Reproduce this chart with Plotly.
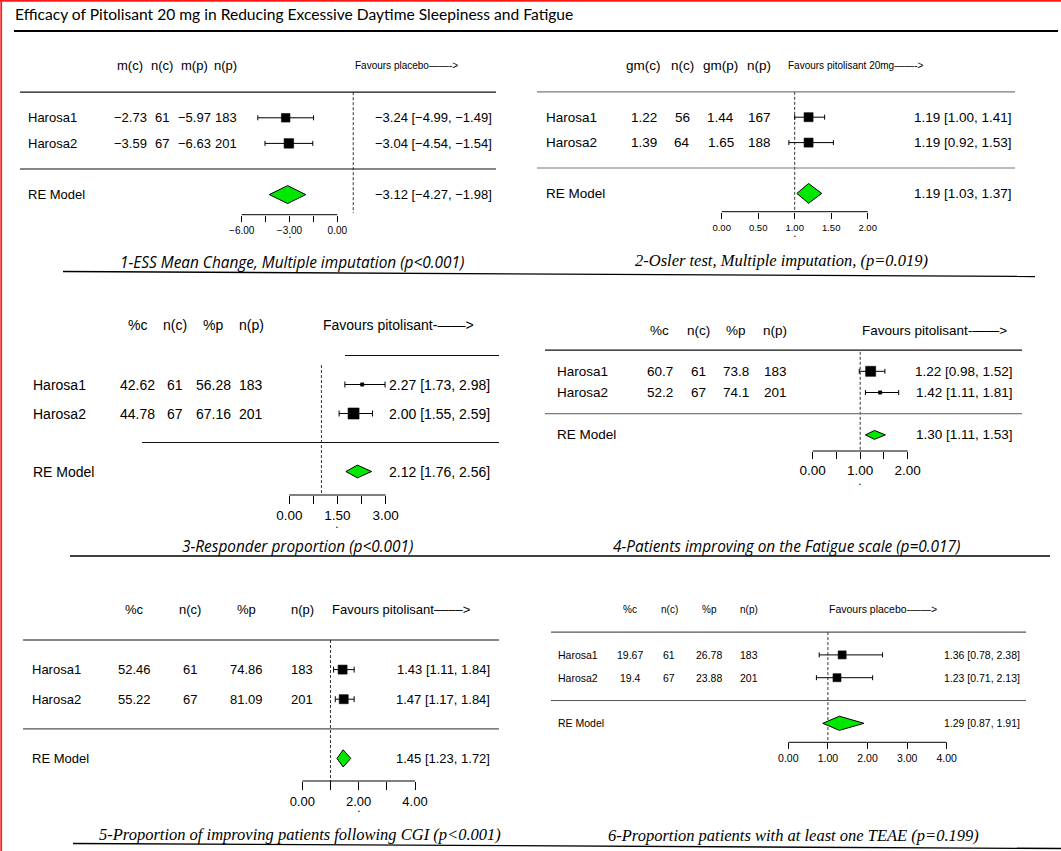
import plotly.graph_objects as go

W, H = 1061, 851
MINUS = "\u2212"

STUDIES = ["Harosa1", "Harosa2"]
STUDY_ROWS = [2, 1]
RE_ROW = -1
RE_LABEL = "RE Model"
REF_VALUE = 1.0

MAIN_TITLE = "Efficacy of Pitolisant 20 mg in Reducing Excessive Daytime Sleepiness and Fatigue"

# ---- 1: ESS mean change ----
ess_headers = ["m(c)", "n(c)", "m(p)", "n(p)"]
ess_mc = [-2.73, -3.59]
ess_nc = [61, 67]
ess_mp = [-5.97, -6.63]
ess_np = [183, 201]
ess_est = [-3.24, -3.04]
ess_lo = [-4.99, -4.54]
ess_hi = [-1.49, -1.54]
ess_re = [-3.12, -4.27, -1.98]
ess_ticks = [-6, -4.5, -3, -1.5, 0]
ess_ticktext = ["\u22126.00", "", "\u22123.00", "", "0.00"]
ess_favours = "Favours placebo\u2014\u2014->"
ess_title = "1-ESS Mean Change, Multiple imputation (p<0.001)"

# ---- 2: Osler test ----
osler_headers = ["gm(c)", "n(c)", "gm(p)", "n(p)"]
osler_gmc = [1.22, 1.39]
osler_nc = [56, 64]
osler_gmp = [1.44, 1.65]
osler_np = [167, 188]
osler_est = [1.19, 1.19]
osler_lo = [1.00, 0.92]
osler_hi = [1.41, 1.53]
osler_re = [1.19, 1.03, 1.37]
osler_ticks = [0, 0.5, 1, 1.5, 2]
osler_ticktext = ["0.00", "0.50", "1.00", "1.50", "2.00"]
osler_favours = "Favours pitolisant 20mg\u2014\u2014->"
osler_title = "2-Osler test, Multiple imputation, (p=0.019)"

# ---- 3: responder proportion ----
resp_headers = ["%c", "n(c)", "%p", "n(p)"]
resp_pc = [42.62, 44.78]
resp_nc = [61, 67]
resp_pp = [56.28, 67.16]
resp_np = [183, 201]
resp_est = [2.27, 2.00]
resp_lo = [1.73, 1.55]
resp_hi = [2.98, 2.59]
resp_re = [2.12, 1.76, 2.56]
resp_ticks = [0, 0.75, 1.5, 2.25, 3]
resp_ticktext = ["0.00", "", "1.50", "", "3.00"]
resp_favours = "Favours pitolisant-\u2014\u2014>"
resp_title = "3-Responder proportion (p<0.001)"

# ---- 4: fatigue scale ----
fat_headers = ["%c", "n(c)", "%p", "n(p)"]
fat_pc = [60.7, 52.2]
fat_nc = [61, 67]
fat_pp = [73.8, 74.1]
fat_np = [183, 201]
fat_est = [1.22, 1.42]
fat_lo = [0.98, 1.11]
fat_hi = [1.52, 1.81]
fat_re = [1.30, 1.11, 1.53]
fat_ticks = [0, 0.5, 1, 1.5, 2]
fat_ticktext = ["0.00", "", "1.00", "", "2.00"]
fat_favours = "Favours pitolisant-\u2014\u2014>"
fat_title = "4-Patients improving on the Fatigue scale (p=0.017)"

# ---- 5: CGI improvement ----
cgi_headers = ["%c", "n(c)", "%p", "n(p)"]
cgi_pc = [52.46, 55.22]
cgi_nc = [61, 67]
cgi_pp = [74.86, 81.09]
cgi_np = [183, 201]
cgi_est = [1.43, 1.47]
cgi_lo = [1.11, 1.17]
cgi_hi = [1.84, 1.84]
cgi_re = [1.45, 1.23, 1.72]
cgi_ticks = [0, 1, 2, 3, 4]
cgi_ticktext = ["0.00", "", "2.00", "", "4.00"]
cgi_favours = "Favours pitolisant\u2013\u2013\u2013\u2013>"
cgi_title = "5-Proportion of improving patients following CGI (p<0.001)"

# ---- 6: at least one TEAE ----
teae_headers = ["%c", "n(c)", "%p", "n(p)"]
teae_pc = [19.67, 19.4]
teae_nc = [61, 67]
teae_pp = [26.78, 23.88]
teae_np = [183, 201]
teae_est = [1.36, 1.23]
teae_lo = [0.78, 0.71]
teae_hi = [2.38, 2.13]
teae_re = [1.29, 0.87, 1.91]
teae_ticks = [0, 1, 2, 3, 4]
teae_ticktext = ["0.00", "1.00", "2.00", "3.00", "4.00"]
teae_favours = "Favours placebo-\u2014\u2014>"
teae_title = "6-Proportion patients with at least one TEAE (p=0.199)"

SANS = "Liberation Sans, Arial, Helvetica, sans-serif"
HUMAN = "Open Sans, Noto Sans, sans-serif"
SERIF = "Liberation Serif, Times New Roman, serif"
HEAD = "Lato, Open Sans, sans-serif"
GREEN = "#00E800"

panels = [
    dict(headers=ess_headers, cols=[ess_mc, ess_nc, ess_mp, ess_np],
         est=ess_est, lo=ess_lo, hi=ess_hi, re=ess_re,
         ticks=ess_ticks, ticktext=ess_ticktext, favours=ess_favours, title=ess_title,
         x0=337.3, s=15.93, y0=169.0, h=25.6, axis_px=214.7, ticklen=6, fs_tick=10,
         col_x=[130, 162.3, 194, 225.7], head_y=65, fs_head=13,
         fav_x=354, fav_y=65, fs_fav=10,
         label_x=26.5, right_x=493, fs=13,
         top=(20, 496, "#111"), mid=(20, 496, "#111"),
         ref_rows=(3, -1.72), sq=[8.5, 9.5], cap=2.5, dh=0.35,
         title_x=292, title_y=262, title_font=HUMAN, title_fs=15.4,
         dot=(-3, 237)),
    dict(headers=osler_headers, cols=[osler_gmc, osler_nc, osler_gmp, osler_np],
         est=osler_est, lo=osler_lo, hi=osler_hi, re=osler_re,
         ticks=osler_ticks, ticktext=osler_ticktext, favours=osler_favours, title=osler_title,
         x0=721.7, s=73.0, y0=168.0, h=25.4, axis_px=211.7, ticklen=6.5, fs_tick=9.5,
         col_x=[643.5, 682, 720.5, 759], head_y=65, fs_head=13.5,
         fav_x=787, fav_y=65, fs_fav=10,
         label_x=545, right_x=1013, fs=13.5,
         top=(537, 1015, "#7a7a7a"), mid=(537, 1015, "#7a7a7a"),
         ref_rows=(3, -1.72), sq=[9, 9], cap=2.5, dh=0.39,
         title_x=781, title_y=260, title_font=SERIF, title_fs=16.5,
         dot=(1, 235.5)),
    dict(headers=resp_headers, cols=[resp_pc, resp_nc, resp_pp, resp_np],
         est=resp_est, lo=resp_lo, hi=resp_hi, re=resp_re,
         ticks=resp_ticks, ticktext=resp_ticktext, favours=resp_favours, title=resp_title,
         x0=289.3, s=32.13, y0=442.5, h=29.0, axis_px=495, ticklen=8, fs_tick=13.5,
         col_x=[137.2, 174.8, 213, 251.3], head_y=325, fs_head=14,
         fav_x=322, fav_y=325, fs_fav=14,
         label_x=32, right_x=491, fs=14,
         top=(345, 499, "#111"), mid=(142, 499, "#111"),
         ref_rows=(2.67, -1.74), sq=[3.3, 11], cap=3, dh=0.22,
         title_x=297, title_y=546, title_font=HUMAN, title_fs=15.4,
         dot=(1.5, 527)),
    dict(headers=fat_headers, cols=[fat_pc, fat_nc, fat_pp, fat_np],
         est=fat_est, lo=fat_lo, hi=fat_hi, re=fat_re,
         ticks=fat_ticks, ticktext=fat_ticktext, favours=fat_favours, title=fat_title,
         x0=812.7, s=47.5, y0=413.7, h=21.2, axis_px=451, ticklen=7, fs_tick=13.5,
         col_x=[659.5, 698.2, 736.3, 775.2], head_y=330, fs_head=13.5,
         fav_x=861, fav_y=330, fs_fav=13.5,
         label_x=556, right_x=1014, fs=13.5,
         top=(545, 1022, "#111"), mid=(545, 1022, "#7a7a7a"),
         ref_rows=(2.92, -1.71), sq=[10, 3.3], cap=2.5, dh=0.21,
         title_x=786, title_y=546, title_font=HUMAN, title_fs=15.4,
         dot=(1, 484)),
    dict(headers=cgi_headers, cols=[cgi_pc, cgi_nc, cgi_pp, cgi_np],
         est=cgi_est, lo=cgi_lo, hi=cgi_hi, re=cgi_re,
         ticks=cgi_ticks, ticktext=cgi_ticktext, favours=cgi_favours, title=cgi_title,
         x0=302.3, s=28.18, y0=728.8, h=29.6, axis_px=781, ticklen=8, fs_tick=13,
         col_x=[134.4, 190.1, 246.5, 302.4], head_y=609, fs_head=13,
         fav_x=331, fav_y=609, fs_fav=13,
         label_x=31, right_x=491, fs=13,
         top=(23, 499, "#111"), mid=(23, 499, "#555"),
         ref_rows=(3, -2.0), sq=[9, 9], cap=3, dh=0.29,
         title_x=300, title_y=834, title_font=SERIF, title_fs=16.5,
         dot=(2, 810.5)),
    dict(headers=teae_headers, cols=[teae_pc, teae_nc, teae_pp, teae_np],
         est=teae_est, lo=teae_lo, hi=teae_hi, re=teae_re,
         ticks=teae_ticks, ticktext=teae_ticktext, favours=teae_favours, title=teae_title,
         x0=788.3, s=39.6, y0=700.5, h=22.8, axis_px=742.3, ticklen=6, fs_tick=10.5,
         col_x=[630.3, 669.3, 709.2, 748.6], head_y=609, fs_head=10,
         fav_x=828, fav_y=609, fs_fav=10.5,
         label_x=557, right_x=1021, fs=10.5,
         top=(551, 1026, "#555"), mid=(551, 1026, "#555"),
         ref_rows=(3, -1.81), sq=[8, 8], cap=2.5, dh=0.31,
         title_x=793, title_y=835, title_font=SERIF, title_fs=16.5,
         dot=None),
]


def num(v):
    return f"{v:g}".replace("-", MINUS)


def ci_text(e, l, u):
    return f"{e:.2f} [{l:.2f}, {u:.2f}]".replace("-", MINUS)


fig = go.Figure()
annotations = []
shapes = []
layout_axes = {}


def paper_y(px):
    return 1 - px / H


def add_text(text, x, y, size, family=SANS, xanchor="left", xref="paper", yref="paper", color="black"):
    annotations.append(dict(text=text, x=x, y=y, xref=xref, yref=yref, showarrow=False,
                            xanchor=xanchor, yanchor="middle", borderpad=0,
                            font=dict(size=size, family=family, color=color)))


for i, p in enumerate(panels, start=1):
    xa = f"x{i}" if i > 1 else "x"
    ya = f"y{i}" if i > 1 else "y"
    xkey = f"xaxis{i}" if i > 1 else "xaxis"
    ykey = f"yaxis{i}" if i > 1 else "yaxis"

    layout_axes[xkey] = dict(
        domain=[0, 1], range=[-p["x0"] / p["s"], (W - p["x0"]) / p["s"]],
        anchor="free", position=paper_y(p["axis_px"]), side="bottom",
        showgrid=False, zeroline=False, showline=False,
        ticks="outside", ticklen=p["ticklen"], tickwidth=1, tickcolor="black",
        tickmode="array", tickvals=p["ticks"], ticktext=p["ticktext"],
        tickfont=dict(size=p["fs_tick"], family=SANS, color="black"),
        automargin=False, fixedrange=True,
    )
    layout_axes[ykey] = dict(
        domain=[0, 1], range=[(p["y0"] - H) / p["h"], p["y0"] / p["h"]],
        visible=False, anchor="free", position=0, fixedrange=True,
    )

    axis_row = (p["y0"] - p["axis_px"]) / p["h"]

    # axis line spanning the tick range
    shapes.append(dict(type="line", xref=xa, yref=ya, x0=min(p["ticks"]), x1=max(p["ticks"]),
                       y0=axis_row, y1=axis_row, line=dict(color="black", width=1)))

    # horizontal separators above the studies and above the pooled row
    for (xs, xe, col), row in ((p["top"], 3), (p["mid"], 0)):
        shapes.append(dict(type="line", xref="paper", yref=ya, x0=xs / W, x1=xe / W,
                           y0=row, y1=row, line=dict(color=col, width=1.2)))

    # reference line
    fig.add_trace(go.Scatter(
        x=[REF_VALUE, REF_VALUE], y=list(p["ref_rows"]), mode="lines",
        line=dict(color="#333", width=1, dash="3px,2px"),
        xaxis=xa, yaxis=ya, hoverinfo="skip", showlegend=False))

    # study confidence intervals
    est, lo, hi = p["est"], p["lo"], p["hi"]
    fig.add_trace(go.Scatter(
        x=est, y=STUDY_ROWS, mode="markers",
        marker=dict(symbol="square", size=1, color="black", opacity=0),
        error_x=dict(type="data", symmetric=False,
                     array=[u - e for e, u in zip(est, hi)],
                     arrayminus=[e - l for e, l in zip(est, lo)],
                     color="black", thickness=1, width=p["cap"]),
        xaxis=xa, yaxis=ya, hoverinfo="skip", showlegend=False))
    # study point estimates drawn over the intervals
    fig.add_trace(go.Scatter(
        x=est, y=STUDY_ROWS, mode="markers",
        marker=dict(symbol="square", size=p["sq"], color="#000000", opacity=1,
                    line=dict(width=0.6, color="#000000")),
        xaxis=xa, yaxis=ya, hoverinfo="skip", showlegend=False))

    # pooled random-effects diamond
    re_e, re_l, re_u = p["re"]
    d = p["dh"]
    fig.add_trace(go.Scatter(
        x=[re_l, re_e, re_u, re_e, re_l],
        y=[RE_ROW, RE_ROW + d, RE_ROW, RE_ROW - d, RE_ROW],
        mode="lines", fill="toself", fillcolor=GREEN,
        line=dict(color="black", width=1),
        xaxis=xa, yaxis=ya, hoverinfo="skip", showlegend=False))

    # column headers and favours label
    for hx, htxt in zip(p["col_x"], p["headers"]):
        add_text(htxt, hx / W, paper_y(p["head_y"]), p["fs_head"], xanchor="center")
    add_text(p["favours"], p["fav_x"] / W, paper_y(p["fav_y"]), p["fs_fav"])

    # study rows
    for k, (name, row) in enumerate(zip(STUDIES, STUDY_ROWS)):
        add_text(name, p["label_x"] / W, row, p["fs"], yref=ya)
        for cx, col in zip(p["col_x"], p["cols"]):
            add_text(num(col[k]), cx / W, row, p["fs"], xanchor="center", yref=ya)
        add_text(ci_text(est[k], lo[k], hi[k]), p["right_x"] / W, row, p["fs"],
                 xanchor="right", yref=ya)

    # pooled row
    add_text(RE_LABEL, p["label_x"] / W, RE_ROW, p["fs"], yref=ya)
    add_text(ci_text(re_e, re_l, re_u), p["right_x"] / W, RE_ROW, p["fs"], xanchor="right", yref=ya)

    # x-axis label: a small dot under the axis centre
    if p["dot"] is not None:
        add_text("\u2022", p["dot"][0], paper_y(p["dot"][1]), 5, xanchor="center", xref=xa)

    # panel caption
    add_text(f"<i>{p['title']}</i>", p["title_x"] / W, paper_y(p["title_y"]),
             p["title_fs"], family=p["title_font"], xanchor="center")

# caption underlines
for (xa_, ya_, xb_, yb_) in ((63, 271.5, 1035, 276.5), (70, 556, 1050, 556), (73, 843.5, 1061, 848.5)):
    shapes.append(dict(type="line", xref="paper", yref="paper", x0=xa_ / W, x1=xb_ / W,
                       y0=paper_y(ya_), y1=paper_y(yb_), line=dict(color="black", width=1.3)))

# main heading and its rule
add_text(MAIN_TITLE, 14 / W, paper_y(14), 15.6, family=HEAD)
shapes.append(dict(type="line", xref="paper", yref="paper", x0=14 / W, x1=1058 / W,
                   y0=paper_y(31), y1=paper_y(31), line=dict(color="black", width=2.2)))

# frame edges
shapes.append(dict(type="line", xref="paper", yref="paper", x0=0, x1=1, y0=paper_y(0.8), y1=paper_y(0.8),
                   line=dict(color="#ff1a1a", width=1.8)))
shapes.append(dict(type="line", xref="paper", yref="paper", x0=1.2 / W, x1=1.2 / W, y0=0, y1=1,
                   line=dict(color="#ff1a1a", width=1.8)))

fig.update_layout(
    width=W, height=H, margin=dict(l=0, r=0, t=0, b=0),
    paper_bgcolor="white", plot_bgcolor="rgba(0,0,0,0)",
    showlegend=False, annotations=annotations, shapes=shapes,
    **layout_axes,
)

fig.write_html("out.html", config={"displayModeBar": False})
